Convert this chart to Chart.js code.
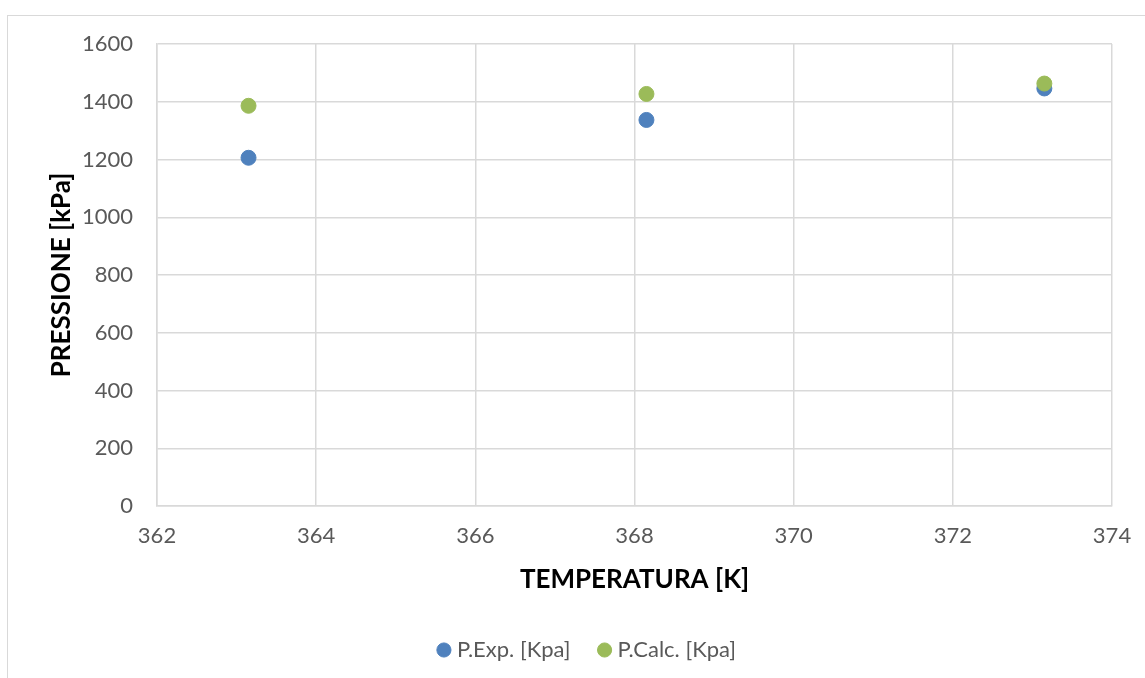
<!DOCTYPE html>
<html>
<head>
<meta charset="utf-8">
<script src="https://cdn.jsdelivr.net/npm/chart.js@4.4.0/dist/chart.umd.min.js"></script>
<style>
  html, body { margin: 0; padding: 0; background: #fff; overflow: hidden; }
  #frame { position: absolute; left: 7px; top: 15px; width: 1200px; height: 700px; border: 1px solid #D9D9D9; }
  #wrap { position: absolute; left: 0; top: 0; width: 1145px; height: 678px; }
</style>
</head>
<body>
<div id="frame"></div>
<div id="wrap"><canvas id="chart" width="1145" height="678"></canvas></div>
<script>
const temperature = [363.15, 368.15, 373.15];
const pExp  = [1206, 1337, 1446];
const pCalc = [1386, 1427, 1463];
const xTicks = [362, 364, 366, 368, 370, 372, 374];
const yTicks = [0, 200, 400, 600, 800, 1000, 1200, 1400, 1600];

const toPoints = vals => temperature.map((t, i) => ({ x: t, y: vals[i] }));
const fontFamily = 'Lato, "Open Sans", sans-serif';
const grey = '#595959';

new Chart(document.getElementById('chart'), {
    type: 'scatter',
    data: {
        datasets: [{
            label: 'P.Exp. [Kpa]',
            data: toPoints(pExp),
            backgroundColor: '#4F81BD',
            borderColor: '#4F81BD',
            pointRadius: 7.5,
            pointHoverRadius: 7.5,
            order: 1
        }, {
            label: 'P.Calc. [Kpa]',
            data: toPoints(pCalc),
            backgroundColor: '#9BBB59',
            borderColor: '#9BBB59',
            pointRadius: 7.5,
            pointHoverRadius: 7.5,
            order: 0
        }]
    },
    options: {
        responsive: false,
        animation: false,
        layout: { padding: { top: 44, right: 33, bottom: 7, left: 66 } },
        plugins: {
            tooltip: { enabled: false },
            legend: {
                position: 'bottom',
                labels: {
                    usePointStyle: true,
                    pointStyle: 'circle',
                    boxWidth: 4,
                    boxHeight: 10,
                    padding: 32,
                    color: grey,
                    font: { family: fontFamily, size: 22 },
                    sort: (a, b) => a.datasetIndex - b.datasetIndex
                }
            }
        },
        scales: {
            x: {
                type: 'linear',
                min: xTicks[0],
                max: xTicks[xTicks.length - 1],
                afterBuildTicks: s => { s.ticks = xTicks.map(v => ({ value: v })); },
                afterFit: s => { s.height = 101; s.paddingLeft = 0; s.paddingRight = 0; },
                grid: { color: '#D9D9D9', lineWidth: 1.5, drawTicks: false },
                border: { color: '#D9D9D9', width: 1.5 },
                ticks: { color: grey, padding: 17, font: { family: fontFamily, size: 22 }, callback: v => String(v) },
                title: {
                    display: true,
                    text: 'TEMPERATURA [K]',
                    color: '#000',
                    padding: { top: 0, bottom: 12 },
                    font: { family: fontFamily, size: 26, weight: 'bold' }
                }
            },
            y: {
                min: yTicks[0],
                max: yTicks[yTicks.length - 1],
                afterBuildTicks: s => { s.ticks = yTicks.map(v => ({ value: v })); },
                afterFit: s => { s.width = 91; },
                grid: { color: '#D9D9D9', lineWidth: 1.5, drawTicks: false },
                border: { color: '#D9D9D9', width: 1.5 },
                ticks: { color: grey, padding: 24, font: { family: fontFamily, size: 22 }, callback: v => String(v) },
                title: {
                    display: true,
                    text: 'PRESSIONE [kPa]',
                    color: '#000',
                    padding: { top: -20, bottom: 0 },
                    font: { family: fontFamily, size: 26, weight: 'bold' }
                }
            }
        }
    }
});
</script>
</body>
</html>
